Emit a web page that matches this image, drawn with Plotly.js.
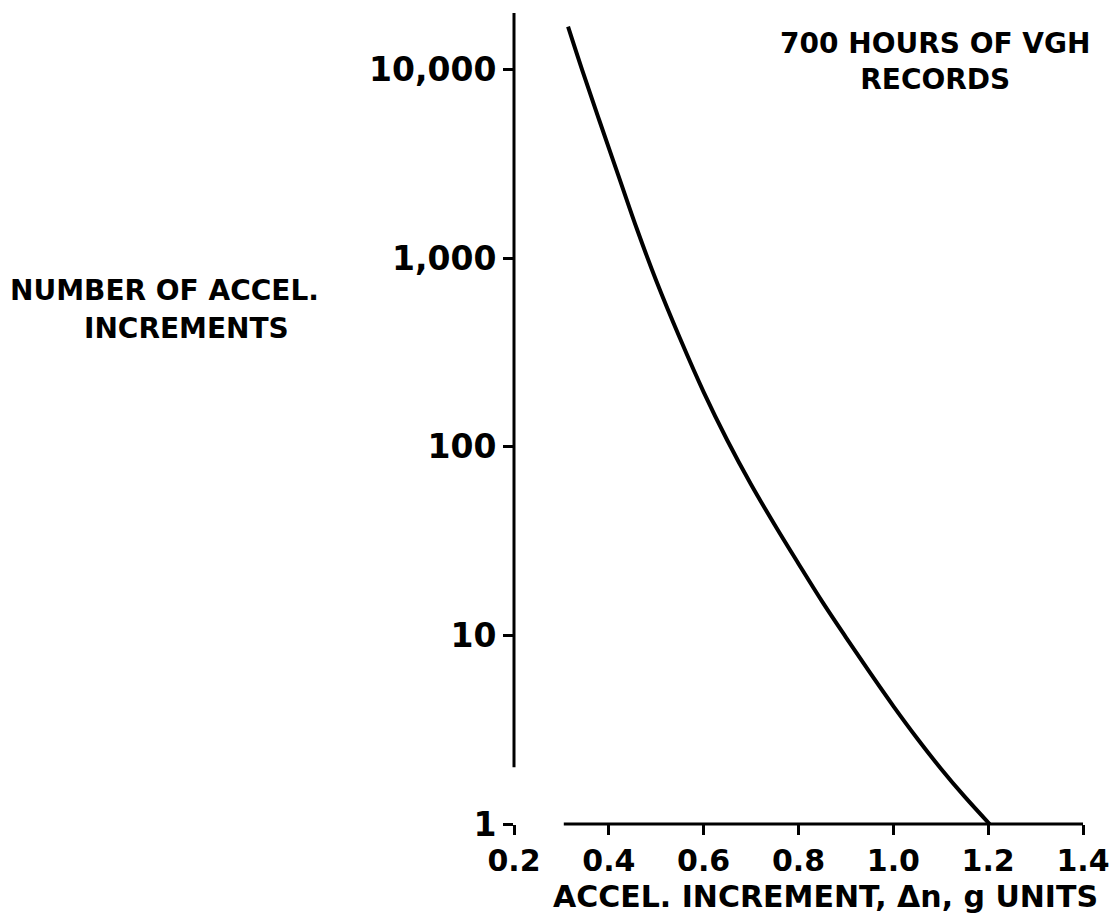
<!DOCTYPE html>
<html>
<head>
<meta charset="utf-8">
<script src="https://cdn.plot.ly/plotly-3.0.1.min.js"></script>
<style>
  html, body { margin: 0; padding: 0; background: #ffffff; }
  #chart { width: 1111px; height: 921px; }
</style>
</head>
<body>
<div id="chart"></div>
<script>
// Data
const accelIncrement = [0.314, 0.3435, 0.38, 0.42, 0.46, 0.50, 0.55, 0.60, 0.65, 0.70, 0.75, 0.80, 0.85, 0.90, 0.95, 1.00, 1.05, 1.10, 1.15, 1.203];
const numIncrements  = [16900, 10000, 5370, 2750, 1410, 759, 376, 195, 108, 63.1, 38.5, 24, 15.1, 9.77, 6.38, 4.22, 2.85, 1.97, 1.40, 1.0];

// Tick labels
const xTickVals = [0.2, 0.4, 0.6, 0.8, 1.0, 1.2, 1.4];
const xTickText = ['0.2', '0.4', '0.6', '0.8', '1.0', '1.2', '1.4'];
const yTickVals = [1, 10, 100, 1000, 10000];
const yTickText = ['1', '10', '100', '1,000', '10,000'];

// Text
const yTitleLine1 = 'NUMBER OF ACCEL.';
const yTitleLine2 = 'INCREMENTS';
const xTitleText = 'ACCEL. INCREMENT, Δn, g UNITS';
const noteText = '700 HOURS OF VGH<br>RECORDS';

const FONT = 'DejaVu Sans, Liberation Sans, sans-serif';

const trace = {
  x: accelIncrement,
  y: numIncrements,
  type: 'scatter',
  mode: 'lines',
  line: { color: '#000000', width: 4, shape: 'spline', smoothing: 1 },
  hoverinfo: 'x+y',
  showlegend: false
};

const layout = {
  width: 1111,
  height: 921,
  paper_bgcolor: '#ffffff',
  plot_bgcolor: '#ffffff',
  margin: { l: 514, r: 28, t: 13, b: 97 },
  showlegend: false,
  font: { family: FONT, color: '#000000', size: 28, weight: 'bold' },
  xaxis: {
    type: 'linear',
    range: [0.2, 1.4],
    showgrid: false,
    zeroline: false,
    showline: false,
    tickmode: 'array',
    tickvals: xTickVals,
    ticktext: xTickText,
    ticks: 'outside',
    ticklen: 10,
    tickwidth: 3,
    tickcolor: '#000000',
    tickfont: { family: FONT, size: 30, color: '#000000', weight: 'bold' },
    fixedrange: true
  },
  yaxis: {
    type: 'log',
    range: [0, 4.3],
    showgrid: false,
    zeroline: false,
    showline: false,
    tickmode: 'array',
    tickvals: yTickVals,
    ticktext: yTickText,
    ticks: 'outside',
    ticklen: 10,
    tickwidth: 3,
    tickcolor: '#000000',
    tickfont: { family: FONT, size: 33, color: '#000000', weight: 'bold' },
    fixedrange: true
  },
  shapes: [
    // y axis line (partial, as in the original)
    { type: 'line', xref: 'paper', yref: 'y', x0: 0, x1: 0, y0: 2, y1: 20000,
      line: { color: '#000000', width: 3 } },
    // x axis line (partial)
    { type: 'line', xref: 'x', yref: 'paper', x0: 0.305, x1: 1.4, y0: 0, y1: 0,
      line: { color: '#000000', width: 3 } }
  ],
  annotations: [
    { xref: 'paper', yref: 'paper', x: -0.615, y: 0.658, xanchor: 'center', yanchor: 'middle',
      text: yTitleLine1, showarrow: false,
      font: { family: FONT, size: 28, color: '#000000', weight: 'bold' } },
    { xref: 'paper', yref: 'paper', x: -0.576, y: 0.611, xanchor: 'center', yanchor: 'middle',
      text: yTitleLine2, showarrow: false,
      font: { family: FONT, size: 28, color: '#000000', weight: 'bold' } },
    { xref: 'paper', yref: 'paper', x: 0.547, y: -0.09, xanchor: 'center', yanchor: 'middle',
      text: xTitleText, showarrow: false,
      font: { family: FONT, size: 30, color: '#000000', weight: 'bold' } },
    { xref: 'paper', yref: 'paper', x: 0.74, y: 0.94, xanchor: 'center', yanchor: 'middle',
      text: noteText, showarrow: false, align: 'center',
      font: { family: FONT, size: 28, color: '#000000', weight: 'bold' } }
  ]
};

Plotly.newPlot('chart', [trace], layout, { displayModeBar: false, staticPlot: true });
</script>
</body>
</html>
